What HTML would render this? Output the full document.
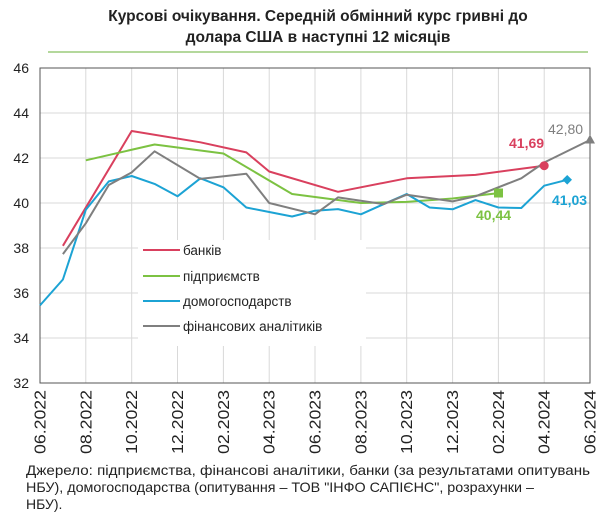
<!DOCTYPE html>
<html><head><meta charset="utf-8"><style>
body{margin:0;background:#fff;}
svg{display:block;font-family:"Liberation Sans",sans-serif;}
</style></head><body>
<svg width="600" height="515" viewBox="0 0 600 515" xmlns="http://www.w3.org/2000/svg">
<text x="318" y="21" text-anchor="middle" font-size="15.5" font-weight="bold" fill="#222">Курсові  очікування. Середній обмінний курс гривні до</text>
<text x="318" y="42" text-anchor="middle" font-size="15.5" font-weight="bold" fill="#222">долара США  в наступні  12 місяців</text>
<line x1="48" y1="52" x2="588" y2="52" stroke="#9ccc7c" stroke-width="1.5"/>
<g stroke="#d9d9d9" stroke-width="1">
<line x1="40" y1="113" x2="590" y2="113"/><line x1="40" y1="158" x2="590" y2="158"/><line x1="40" y1="203" x2="590" y2="203"/><line x1="40" y1="248" x2="590" y2="248"/><line x1="40" y1="293" x2="590" y2="293"/><line x1="40" y1="338" x2="590" y2="338"/>
<line x1="85.8" y1="68" x2="85.8" y2="383"/><line x1="131.7" y1="68" x2="131.7" y2="383"/><line x1="177.5" y1="68" x2="177.5" y2="383"/><line x1="223.4" y1="68" x2="223.4" y2="383"/><line x1="269.2" y1="68" x2="269.2" y2="383"/><line x1="315" y1="68" x2="315" y2="383"/><line x1="360.9" y1="68" x2="360.9" y2="383"/><line x1="406.7" y1="68" x2="406.7" y2="383"/><line x1="452.6" y1="68" x2="452.6" y2="383"/><line x1="498.4" y1="68" x2="498.4" y2="383"/><line x1="544.2" y1="68" x2="544.2" y2="383"/>
</g>
<rect x="40" y="68" width="550" height="315" fill="none" stroke="#555" stroke-width="1"/>
<g font-size="14" fill="#222" text-anchor="end">
<text x="29" y="73">46</text><text x="29" y="118">44</text><text x="29" y="163">42</text><text x="29" y="208">40</text><text x="29" y="253">38</text><text x="29" y="298">36</text><text x="29" y="343">34</text><text x="29" y="388">32</text>
</g>
<rect x="138" y="240" width="228" height="106" fill="#fff"/>
<g fill="none" stroke-width="2" stroke-linejoin="round">
<polyline stroke="#d9405e" points="62.9,245.8 131.7,131 200.4,142.3 246.3,152.4 269.2,171.5 338,191.8 406.7,178.3 475.5,174.9 544.2,165.7"/>
<polyline stroke="#7cc242" points="85.8,160.3 154.6,144.5 223.4,153.5 292.1,194 360.9,203 406.7,201.9 452.6,198.5 498.4,193.1"/>
<polyline stroke="#1ca3d4" points="40,305.4 62.9,279.5 85.8,209.8 108.8,181.4 131.7,176 154.6,183.9 177.5,196.3 200.4,178.3 223.4,187.3 246.3,207.5 269.2,212 292.1,216.5 315,210.7 338,209.1 360.9,214.3 383.8,204.1 406.7,194 429.6,207.5 452.6,209.3 475.5,200.1 498.4,207.5 521.3,208 544.2,185.7 567.2,179.8"/>
<polyline stroke="#7f7f7f" points="62.9,254.1 85.8,223.3 108.8,185 131.7,172.4 154.6,151.3 200.4,178.9 246.3,173.8 269.2,203 315,214.3 338,197.4 383.8,204.1 406.7,194.7 452.6,201.4 475.5,196.3 521.3,178.3 544.2,162.5 590,140"/>
</g>
<circle cx="544.2" cy="165.7" r="4.5" fill="#d9405e"/>
<rect x="494" y="188.5" width="9" height="9" fill="#7cc242"/>
<polygon points="567.2,175 572,179.8 567.2,184.6 562.4,179.8" fill="#1ca3d4"/>
<polygon points="590,134.5 595,143.5 585,143.5" fill="#7f7f7f"/>
<text x="509" y="148" font-size="14" font-weight="bold" fill="#d9405e">41,69</text>
<text x="548" y="134" font-size="14" fill="#7f7f7f">42,80</text>
<text x="476" y="220" font-size="14" font-weight="bold" fill="#7cc242">40,44</text>
<text x="552" y="205" font-size="14" font-weight="bold" fill="#1ca3d4">41,03</text>
<g stroke-width="2">
<line x1="143" y1="250" x2="180" y2="250" stroke="#d9405e"/>
<line x1="143" y1="276" x2="180" y2="276" stroke="#7cc242"/>
<line x1="143" y1="301" x2="180" y2="301" stroke="#1ca3d4"/>
<line x1="143" y1="326" x2="180" y2="326" stroke="#7f7f7f"/>
</g>
<g font-size="13.5" fill="#222">
<text x="183" y="255">банків</text><text x="183" y="281">підприємств</text><text x="183" y="306">домогосподарств</text><text x="183" y="331">фінансових  аналітиків</text>
</g>
<g font-size="15.5" fill="#222" text-anchor="end" lengthAdjust="spacingAndGlyphs">
<text transform="translate(45.5,390) rotate(-90)" textLength="64" lengthAdjust="spacingAndGlyphs">06.2022</text>
<text transform="translate(91.3,390) rotate(-90)" textLength="64" lengthAdjust="spacingAndGlyphs">08.2022</text>
<text transform="translate(137.2,390) rotate(-90)" textLength="64" lengthAdjust="spacingAndGlyphs">10.2022</text>
<text transform="translate(183,390) rotate(-90)" textLength="64" lengthAdjust="spacingAndGlyphs">12.2022</text>
<text transform="translate(228.9,390) rotate(-90)" textLength="64" lengthAdjust="spacingAndGlyphs">02.2023</text>
<text transform="translate(274.7,390) rotate(-90)" textLength="64" lengthAdjust="spacingAndGlyphs">04.2023</text>
<text transform="translate(320.5,390) rotate(-90)" textLength="64" lengthAdjust="spacingAndGlyphs">06.2023</text>
<text transform="translate(366.4,390) rotate(-90)" textLength="64" lengthAdjust="spacingAndGlyphs">08.2023</text>
<text transform="translate(412.2,390) rotate(-90)" textLength="64" lengthAdjust="spacingAndGlyphs">10.2023</text>
<text transform="translate(458.1,390) rotate(-90)" textLength="64" lengthAdjust="spacingAndGlyphs">12.2023</text>
<text transform="translate(503.9,390) rotate(-90)" textLength="64" lengthAdjust="spacingAndGlyphs">02.2024</text>
<text transform="translate(549.7,390) rotate(-90)" textLength="64" lengthAdjust="spacingAndGlyphs">04.2024</text>
<text transform="translate(595.5,390) rotate(-90)" textLength="64" lengthAdjust="spacingAndGlyphs">06.2024</text>
</g>
<g font-size="14" fill="#222">
<text x="26" y="475" textLength="564" lengthAdjust="spacingAndGlyphs">Джерело: підприємства, фінансові аналітики, банки (за результатами опитувань</text>
<text x="26" y="492" textLength="508" lengthAdjust="spacingAndGlyphs">НБУ), домогосподарства (опитування – ТОВ "ІНФО САПІЄНС", розрахунки –</text>
<text x="26" y="509">НБУ).</text>
</g>
</svg>
</body></html>
